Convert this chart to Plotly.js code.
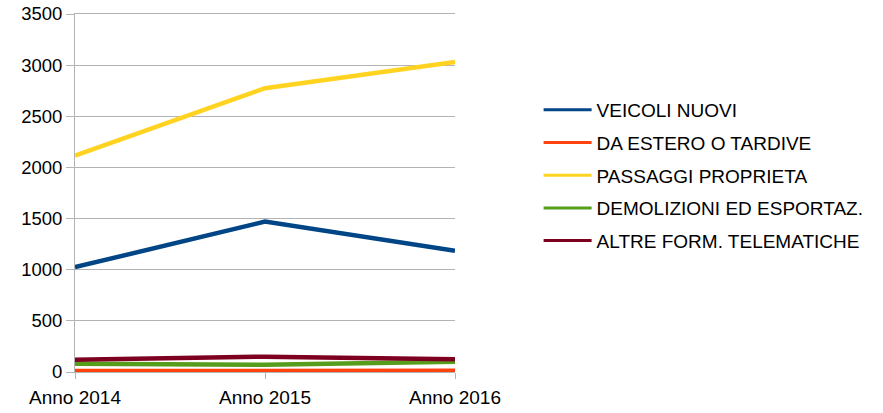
<!DOCTYPE html>
<html>
<head>
<meta charset="utf-8">
<script src="https://cdn.plot.ly/plotly-3.0.1.min.js"></script>
<style>html,body{margin:0;padding:0;background:#fff}#chart{width:883px;height:413px}</style>
</head>
<body>
<div id="chart"></div>
<script>
var categories = ["Anno 2014", "Anno 2015", "Anno 2016"];
var seriesNames = ["VEICOLI NUOVI", "DA ESTERO O TARDIVE", "PASSAGGI PROPRIETA", "DEMOLIZIONI ED ESPORTAZ.", "ALTRE FORM. TELEMATICHE"];
var veicoliNuovi = [1025, 1470, 1185];
var daEstero = [10, 10, 12];
var passaggi = [2115, 2775, 3030];
var demolizioni = [80, 70, 100];
var altreForm = [120, 150, 125];
var colors = ["#004586", "#ff420e", "#ffd320", "#579d1c", "#7e0021"];
var yTicks = [0, 500, 1000, 1500, 2000, 2500, 3000, 3500];

var values = [veicoliNuovi, daEstero, passaggi, demolizioni, altreForm];
var drawOrder = [1, 3, 4, 0, 2];
var traces = [];
drawOrder.forEach(function(i) {
  traces.push({
    type: "scatter", mode: "lines",
    x: categories, y: values[i], name: seriesNames[i],
    showlegend: false, hoverinfo: "skip",
    line: {color: colors[i], width: 4.5}
  });
});
// legend entries (thinner sample lines, as in the reference)
for (var i = 0; i < values.length; i++) {
  traces.push({
    type: "scatter", mode: "lines",
    x: [null], y: [null], name: seriesNames[i],
    legendgroup: "g" + i, legendrank: i + 1, showlegend: true,
    line: {color: colors[i], width: 3}
  });
}

var layout = {
  width: 883, height: 413,
  margin: {l: 75, r: 428, t: 14, b: 41},
  paper_bgcolor: "#fff", plot_bgcolor: "#fff",
  font: {family: "Liberation Sans, Arial, sans-serif", size: 19, color: "#000"},
  showlegend: true,
  legend: {x: 1.22, xanchor: "left", y: 0.785, yanchor: "top",
           tracegroupgap: 5, itemwidth: 48, traceorder: "grouped",
           font: {size: 19, color: "#000"}},
  xaxis: {type: "category", range: [0, 2], showgrid: false, zeroline: false,
          showline: true, linecolor: "#b3b3b3", linewidth: 1, mirror: true,
          ticks: "outside", ticklen: 6, tickcolor: "#b3b3b3",
          ticklabelstandoff: 2, tickfont: {size: 19}},
  yaxis: {range: [0, 3500], tickvals: yTicks, showgrid: true, gridcolor: "#b3b3b3",
          zeroline: false, showline: true, linecolor: "#b3b3b3", linewidth: 1,
          ticks: "outside", ticklen: 8, tickcolor: "#b3b3b3", tickfont: {size: 18.5}}
};
Plotly.newPlot("chart", traces, layout, {displayModeBar: false, staticPlot: true});
</script>
</body>
</html>
